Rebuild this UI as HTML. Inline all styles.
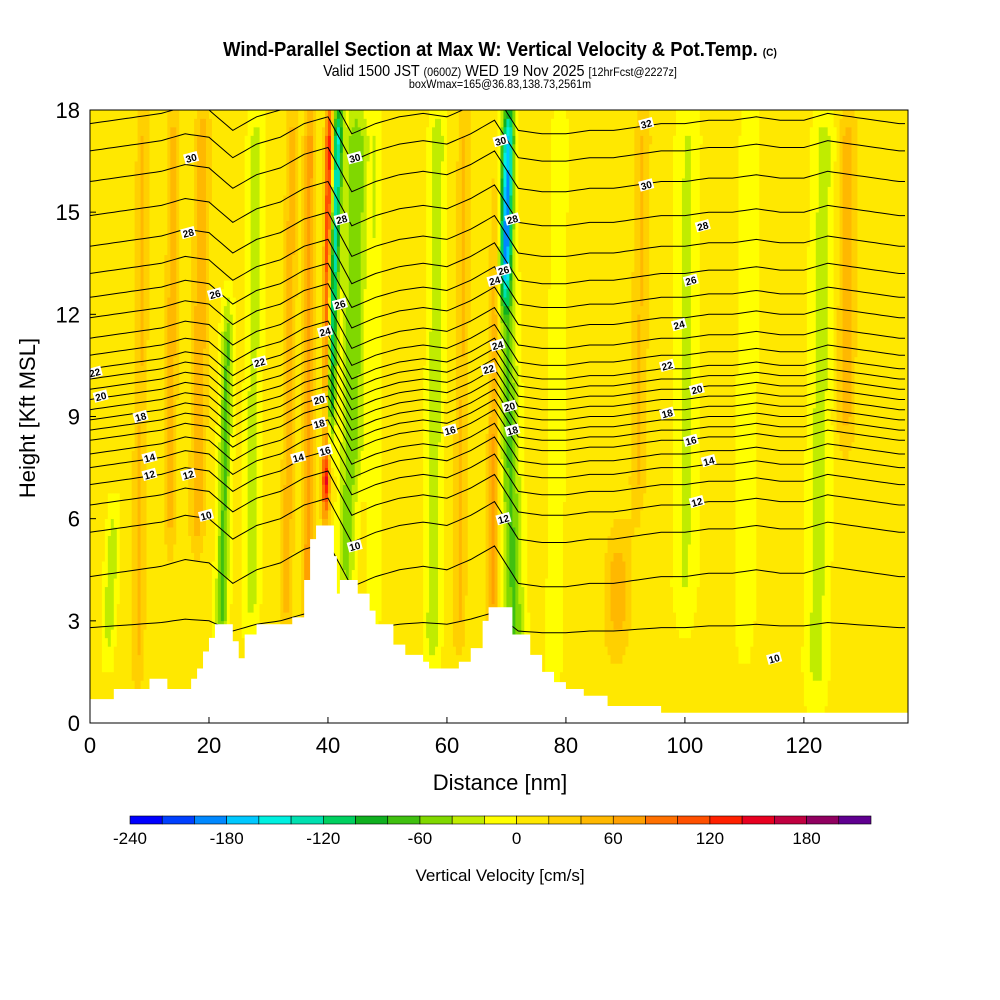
<!DOCTYPE html>
<html><head><meta charset="utf-8"><style>
body{margin:0;background:#fff;}
svg{display:block;font-family:"Liberation Sans",sans-serif;}
</style></head><body>
<svg id="chart" width="1000" height="1000" viewBox="0 0 1000 1000">
<text x="500" y="56" text-anchor="middle" font-size="20" font-weight="bold" transform="translate(500,0) scale(0.92,1) translate(-500,0)">Wind-Parallel Section at Max W: Vertical Velocity &amp; Pot.Temp. <tspan font-size="11">(C)</tspan></text>
<text x="500" y="76" text-anchor="middle" font-size="16" transform="translate(500,0) scale(0.9,1) translate(-500,0)">Valid 1500 JST <tspan font-size="12">(0600Z)</tspan> WED 19 Nov 2025 <tspan font-size="12">[12hrFcst@2227z]</tspan></text>
<text x="500" y="88" text-anchor="middle" font-size="12" transform="translate(500,0) scale(0.9,1) translate(-500,0)">boxWmax=165@36.83,138.73,2561m</text>
<defs><clipPath id="pc"><rect x="90" y="110" width="818" height="613"/></clipPath></defs>
<g id="heat" clip-path="url(#pc)"></g>
<g id="cont" clip-path="url(#pc)"></g>
<g id="terr" clip-path="url(#pc)"></g>
<g id="labs" clip-path="url(#pc)"></g>
<rect x="90" y="110" width="818" height="613" fill="none" stroke="#000" stroke-width="1"/>
<g id="axes"></g>
<text x="500" y="790" text-anchor="middle" font-size="22">Distance [nm]</text>
<text transform="translate(35,418) rotate(-90)" text-anchor="middle" font-size="22">Height [Kft MSL]</text>
<g id="cbar"></g>
<text x="500" y="881" text-anchor="middle" font-size="17">Vertical Velocity [cm/s]</text>
</svg>
<script>
const NS="http://www.w3.org/2000/svg";
// ---- data ----
const cbColors=["#0000ff","#0040ff","#0088ff","#00c8ff","#00f0e0","#00e0b0","#00d060","#10b020","#40c010","#80d800","#c0ec00","#ffff00","#ffe800","#ffd000","#ffb800","#ffa000","#ff7000","#ff5000","#ff2000","#e80020","#c00040","#900060","#600090"];
const cbMin=-240, cbStep=20;
const cbTicks=[-240,-180,-120,-60,0,60,120,180];
const xTicks=[0,20,40,60,80,100,120];
const yTicks=[0,3,6,9,12,15,18];
// streaks: x at bottom, h bottom, x at top, h top, half-width(nm), value(cm/s)
const stX0=[40.0,39.6,43.0,69.8,71.5,67.6,22.0,27.0,18.0,13.5,88.5,100.0,122.0,127.0,57.5,8.0,33.0,47.5,62.0,78.0,110.0,3.0,92.0,36.5,45.0];
const stH0=[8.0,6.0,3.5,12.5,1.5,2.5,2.0,2.5,5.0,5.0,2.0,3.0,0.5,8.0,1.5,1.0,2.5,1.0,2.0,1.0,2.0,2.0,6.0,3.0,7.0];
const stX1=[41.8,40.3,44.5,70.5,69.0,68.5,23.2,28.0,19.0,14.0,89.0,100.5,123.5,127.5,58.5,9.0,34.0,48.0,63.0,79.0,111.0,4.0,93.0,37.0,46.0];
const stH1=[18.0,18.0,18.0,18.0,18.0,18.0,12.0,18.0,18.0,18.0,5.5,18.0,18.0,18.0,18.0,18.0,18.0,18.0,18.0,18.0,18.0,6.0,18.0,18.0,18.0];
const stW=[0.9,0.7,1.4,0.9,1.6,1.0,1.0,1.3,1.3,1.0,2.2,1.8,1.8,1.5,1.3,1.2,1.0,1.0,1.2,1.2,1.6,1.0,1.4,1.0,1.2];
const stV=[-150,140,-55,-140,-70,60,-70,-35,50,45,45,-30,-35,45,-40,35,45,-25,35,-25,-20,-45,35,60,-30];
// terrain (nm, kft) step profile
const terrX=[0,4,10,13,17,18,19,20,21,24,25,26,28,34,36,37,38,41,41.5,42,45,47,48,51,53,56,57,62,64,66,67,69,71,74,76,78,80,83,87,96,136,137.5];
const terrH=[0.7,1.0,1.3,1.0,1.3,1.6,2.1,2.5,2.9,2.4,1.9,2.6,2.9,3.1,4.2,5.4,5.8,4.9,3.8,4.2,3.8,3.3,2.9,2.3,2.0,1.8,1.6,1.8,2.2,3.0,3.4,3.4,2.6,2.0,1.5,1.2,1.0,0.8,0.5,0.3,0.3,0.7];
// theta levels and their left-edge heights (kft)
const thLevels=[8,9,10,11,12,13,14,15,16,17,18,19,20,21,22,23,24,25,26,27,28,29,30,31,32,33];
const thHeights=[2.8,4.3,5.6,6.4,7.0,7.5,7.9,8.3,8.6,8.9,9.2,9.5,9.8,10.1,10.4,10.8,11.3,11.9,12.5,13.2,14.0,14.9,15.9,16.8,17.6,18.3];
// shared displacement of contours along distance (kft), every 4 nm from 0
const dispX=[0,4,8,12,16,20,24,28,32,36,40,44,48,52,56,60,64,68,72,76,80,84,88,92,96,100,104,108,112,116,120,124,128,132,136,140];
const dispH=[0,0.1,0.2,0.3,0.5,0.4,-0.2,0.2,0.4,0.8,1.0,-0.3,0.0,0.2,0.3,0.2,0.5,0.9,-0.2,-0.3,-0.3,-0.2,-0.2,-0.1,0.0,0.0,0.1,0.1,0.2,0.1,0.1,0.3,0.2,0.1,0.0,0.0];
// contour labels
const labVal=[30,28,26,22,14,12,10,24,22,20,18,14,12,20,18,16,16,30,28,26,24,12,10,30,28,26,24,22,20,18,32,30,28,26,24,22,20,18,16,14,12,10];
const labX=[17,16.5,21,28.5,35,16.5,19.5,39.5,0.8,1.8,8.5,10,10,38.5,38.5,39.5,60.5,44.5,42.3,42,68,69.5,44.5,69,71,69.5,68.5,67,70.5,71,93.5,93.5,103,101,99,97,102,97,101,104,102,115];
const labH=[16.6,14.4,12.6,10.6,7.8,7.3,6.1,11.5,10.3,9.6,9.0,7.8,7.3,9.5,8.8,8.0,8.6,16.6,14.8,12.3,13.0,6.0,5.2,17.1,14.8,13.3,11.1,10.4,9.3,8.6,17.6,15.8,14.6,13.0,11.7,10.5,9.8,9.1,8.3,7.7,6.5,1.9];
// ---- scales ----
const X0=90,X1=908,Y0=723,Y1=110,XMAX=137.5,YMAX=18;
const sx=d=>X0+(X1-X0)*d/XMAX;
const sy=h=>Y0-(Y0-Y1)*h/YMAX;
function colorOf(v){let i=Math.floor((v-cbMin)/cbStep);i=Math.max(0,Math.min(cbColors.length-1,i));return cbColors[i];}
function mk(tag,attrs,parent){const e=document.createElementNS(NS,tag);for(const k in attrs)e.setAttribute(k,attrs[k]);parent.appendChild(e);return e;}
// ---- heat field ----
const heat=document.getElementById('heat');
const dxs=0.5,dhs=0.25;
for(let d=0;d<XMAX;d+=dxs){
  let prev=null,startH=0;
  for(let h=0;h<=YMAX+dhs;h+=dhs){
    let v=6;
    for(let s=0;s<stX0.length;s++){
      if(h<stH0[s]-1||h>stH1[s]+1)continue;
      const t=(h-stH0[s])/(stH1[s]-stH0[s]);
      const c=stX0[s]+(stX1[s]-stX0[s])*Math.max(0,Math.min(1,t));
      const dd=(d+dxs/2-c)/stW[s];
      const taper=Math.max(0,Math.min(1,(h-stH0[s]+1)/2,(stH1[s]+1-h)/2));
      v+=stV[s]*Math.exp(-dd*dd)*taper;
    }
    const col=h>YMAX?null:colorOf(v);
    if(col!==prev){
      if(prev){const r=mk('rect',{x:sx(d),y:sy(h),width:sx(dxs)-X0+0.6,height:sy(startH)-sy(h)+0.3,fill:prev},heat);
        
        }
      prev=col;startH=h;
    }
  }
}
// ---- contours ----
function dispAt(d){for(let i=0;i<dispX.length-1;i++){if(d>=dispX[i]&&d<=dispX[i+1]){const t=(d-dispX[i])/(dispX[i+1]-dispX[i]);return dispH[i]+(dispH[i+1]-dispH[i])*t;}}return 0;}
const cont=document.getElementById('cont');
thLevels.forEach((lv,i)=>{
  let pts=[];
  for(let d=0;d<=XMAX;d+=1){const f=(thHeights[i]>4)?1:0.5;pts.push(sx(d).toFixed(1)+','+sy(thHeights[i]+dispAt(d)*f).toFixed(1));}
  const p=mk('polyline',{points:pts.join(' '),fill:'none',stroke:'#000','stroke-width':1},cont);
  
  
});
// ---- terrain ----
const terr=document.getElementById('terr');
let tp=[sx(0)+','+sy(0)];
for(let i=0;i<terrX.length;i++){
  tp.push(sx(terrX[i])+','+sy(terrH[i]));
  const nx=i<terrX.length-1?terrX[i+1]:XMAX;
  tp.push(sx(nx)+','+sy(terrH[i]));
}
tp.push(sx(XMAX)+','+sy(0));
const tpoly=mk('polygon',{points:tp.join(' '),fill:'#fff'},terr);


// ---- labels ----
const labs=document.getElementById('labs');
labVal.forEach((v,i)=>{
  const x=sx(labX[i]),y=sy(labH[i]);
  const g=mk('g',{transform:`translate(${x},${y}) rotate(-15)`},labs);
  
  
  mk('rect',{x:-7,y:-5,width:14,height:10,fill:'#fff'},g);
  const t=mk('text',{x:0,y:4,'text-anchor':'middle','font-size':10,'font-weight':'bold'},g);
  t.textContent=v;
});
// ---- axes ----
const axes=document.getElementById('axes');
xTicks.forEach(v=>{
  const l=mk('line',{x1:sx(v),x2:sx(v),y1:Y0,y2:Y0-6,stroke:'#000'},axes);
  
  const t=mk('text',{x:sx(v),y:753,'text-anchor':'middle','font-size':22},axes);
  
  t.textContent=v;
});
yTicks.forEach(v=>{
  const l=mk('line',{x1:X0,x2:X0+6,y1:sy(v),y2:sy(v),stroke:'#000'},axes);
  
  const t=mk('text',{x:80,y:sy(v)+8,'text-anchor':'end','font-size':22},axes);
  
  t.textContent=v;
});
// ---- colorbar ----
const cb=document.getElementById('cbar');
const CB0=130,CBW=741/cbColors.length;
cbColors.forEach((c,i)=>{
  const r=mk('rect',{x:CB0+i*CBW,y:816,width:CBW,height:8,fill:c,stroke:'#000','stroke-width':0.6},cb);
  
});
cbTicks.forEach(v=>{
  const t=mk('text',{x:CB0+(v-cbMin)/cbStep*CBW,y:844,'text-anchor':'middle','font-size':17},cb);
  
  t.textContent=v;
});
</script>
</body></html>
